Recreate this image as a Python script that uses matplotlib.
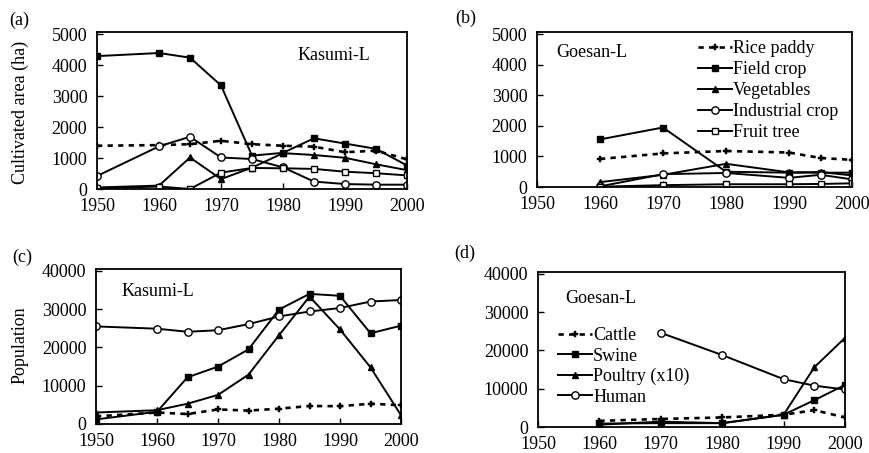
import matplotlib
matplotlib.use("Agg")
import matplotlib.pyplot as plt

plt.rcParams['font.family'] = ['Liberation Serif', 'DejaVu Serif']

# ---------------- data ----------------
years_a = [1950, 1960, 1965, 1970, 1975, 1980, 1985, 1990, 1995, 2000]
rice_a = [1400, 1420, 1450, 1560, 1450, 1400, 1370, 1190, 1240, 960]
field_a = [4300, 4400, 4250, 3350, 1080, 1170, 1640, 1470, 1300, 760]
veg_a = [50, 110, 1020, 320, 690, 1160, 1100, 1010, 800, 610]
ind_a = [420, 1380, 1690, 1020, 970, 700, 240, 160, 140, 140]
fruit_a = [20, 80, 0, 530, 680, 670, 650, 560, 510, 440]

years_b = [1960, 1970, 1980, 1990, 1995, 2000]
rice_b = [920, 1100, 1180, 1130, 950, 890]
field_b = [1560, 1950, 500, 470, 470, 470]
veg_b = [160, 400, 760, 480, 490, 380]
ind_b = [20, 420, 460, 300, 400, 250]
fruit_b = [10, 60, 90, 90, 100, 120]

years_c = [1950, 1960, 1965, 1970, 1975, 1980, 1985, 1990, 1995, 2000]
cattle_c = [2000, 3000, 2600, 3800, 3500, 4000, 4700, 4650, 5300, 4900]
swine_c = [1200, 3200, 12200, 15000, 19500, 29900, 34000, 33500, 23700, 25700]
poultry_c = [3000, 3600, 5300, 7600, 12900, 23200, 33300, 24700, 14800, 2300]
human_c = [25500, 24900, 24100, 24500, 26100, 28100, 29400, 30300, 32000, 32400]

years_d = [1960, 1970, 1980, 1990, 1995, 2000]
cattle_d = [1600, 2100, 2500, 3200, 4400, 2500]
swine_d = [900, 1000, 1000, 3200, 7000, 11000]
poultry_d = [600, 1400, 1000, 3200, 15600, 23300]
years_d_human = [1970, 1980, 1990, 1995, 2000]
human_d = [24600, 18800, 12500, 10800, 9800]

xticks = [1950, 1960, 1970, 1980, 1990, 2000]
yticks_top = [0, 1000, 2000, 3000, 4000, 5000]
yticks_bot = [0, 10000, 20000, 30000, 40000]

crop_labels = ["Rice paddy", "Field crop", "Vegetables", "Industrial crop", "Fruit tree"]
animal_labels = ["Cattle", "Swine", "Poultry (x10)", "Human"]

# ---------------- styles ----------------
FS = 13
LW = 1.4
dash_style = dict(color='black', lw=1.9, ls=(0, (2.0, 2.0)), marker='P', ms=4.8,
                  mfc='black', mec='black', mew=0.3)
sq_style = dict(color='black', lw=LW, marker='s', ms=4.3, mfc='black', mec='black')
tri_style = dict(color='black', lw=LW, marker='^', ms=4.3, mfc='black', mec='black')
circ_style = dict(color='black', lw=LW, marker='o', ms=5.3, mfc='white', mec='black', mew=1.0)
osq_style = dict(color='black', lw=LW, marker='s', ms=4.8, mfc='white', mec='black', mew=1.0)

fig = plt.figure(figsize=(8.69, 4.53), dpi=100)
W, H = 869, 453


def add_ax(l, r, t, b):
    return fig.add_axes([l / W, 1 - b / H, (r - l) / W, (b - t) / H])


axa = add_ax(97, 407, 32, 189)
axb = add_ax(537, 852, 32, 187)
axc = add_ax(96, 401, 269, 424)
axd = add_ax(538, 845, 272, 427)

for ax in (axa, axb, axc, axd):
    ax.set_xlim(1950, 2000)
    ax.set_xticks(xticks)
    ax.tick_params(direction='in', length=4, width=1.0, labelsize=FS,
                   top=False, right=False)
    ax.tick_params(axis='x', pad=6.5)
    ax.tick_params(axis='y', pad=7)
    for s in ax.spines.values():
        s.set_linewidth(1.3)

for ax in (axa, axb):
    ax.set_ylim(0, 5080)
    ax.set_yticks(yticks_top)
for ax in (axc, axd):
    ax.set_ylim(0, 40500)
    ax.set_yticks(yticks_bot)

# panel a
axa.plot(years_a, rice_a, **dash_style)
axa.plot(years_a, field_a, **sq_style)
axa.plot(years_a, veg_a, **tri_style)
axa.plot(years_a, ind_a, **circ_style)
axa.plot(years_a, fruit_a, **osq_style)
axa.text(0.648, 0.853, "Kasumi-L", transform=axa.transAxes, fontsize=FS, va='center')
axa.set_ylabel("Cultivated area (ha)", fontsize=FS)
axa.yaxis.set_label_coords(-0.22, 0.487)

# panel b
hb = []
hb += axb.plot(years_b, rice_b, label=crop_labels[0], **dash_style)
hb += axb.plot(years_b, field_b, label=crop_labels[1], **sq_style)
hb += axb.plot(years_b, veg_b, label=crop_labels[2], **tri_style)
hb += axb.plot(years_b, ind_b, label=crop_labels[3], **circ_style)
hb += axb.plot(years_b, fruit_b, label=crop_labels[4], **osq_style)
axb.text(0.06, 0.865, "Goesan-L", transform=axb.transAxes, fontsize=FS, va='center')
axb.legend(handles=hb, loc='upper left', bbox_to_anchor=(0.511, 0.946), frameon=False,
           fontsize=FS, handlelength=1.9, handletextpad=0.05, labelspacing=0.22,
           borderaxespad=0.0, borderpad=0.0, numpoints=1)

# panel c
axc.plot(years_c, cattle_c, **dash_style)
axc.plot(years_c, swine_c, **sq_style)
axc.plot(years_c, poultry_c, **tri_style)
axc.plot(years_c, human_c, **circ_style)
axc.text(0.085, 0.852, "Kasumi-L", transform=axc.transAxes, fontsize=FS, va='center')
axc.set_ylabel("Population", fontsize=FS)
axc.yaxis.set_label_coords(-0.22, 0.51)

# panel d
hd = []
hd += axd.plot(years_d, cattle_d, label=animal_labels[0], **dash_style)
hd += axd.plot(years_d, swine_d, label=animal_labels[1], **sq_style)
hd += axd.plot(years_d, poultry_d, label=animal_labels[2], **tri_style)
hd += axd.plot(years_d_human, human_d, label=animal_labels[3], **circ_style)
axd.text(0.088, 0.826, "Goesan-L", transform=axd.transAxes, fontsize=FS, va='center')
axd.legend(handles=hd, loc='upper left', bbox_to_anchor=(0.065, 0.642), frameon=False,
           fontsize=FS, handlelength=1.9, handletextpad=0.05, labelspacing=0.18,
           borderaxespad=0.0, borderpad=0.0, numpoints=1)

# panel letters
fig.text(19 / W, 1 - 20 / H, "(a)", fontsize=FS, va='center', ha='center')
fig.text(466 / W, 1 - 18 / H, "(b)", fontsize=FS, va='center', ha='center')
fig.text(22 / W, 1 - 257 / H, "(c)", fontsize=FS, va='center', ha='center')
fig.text(465 / W, 1 - 253 / H, "(d)", fontsize=FS, va='center', ha='center')

fig.savefig("out.png", dpi=100)
